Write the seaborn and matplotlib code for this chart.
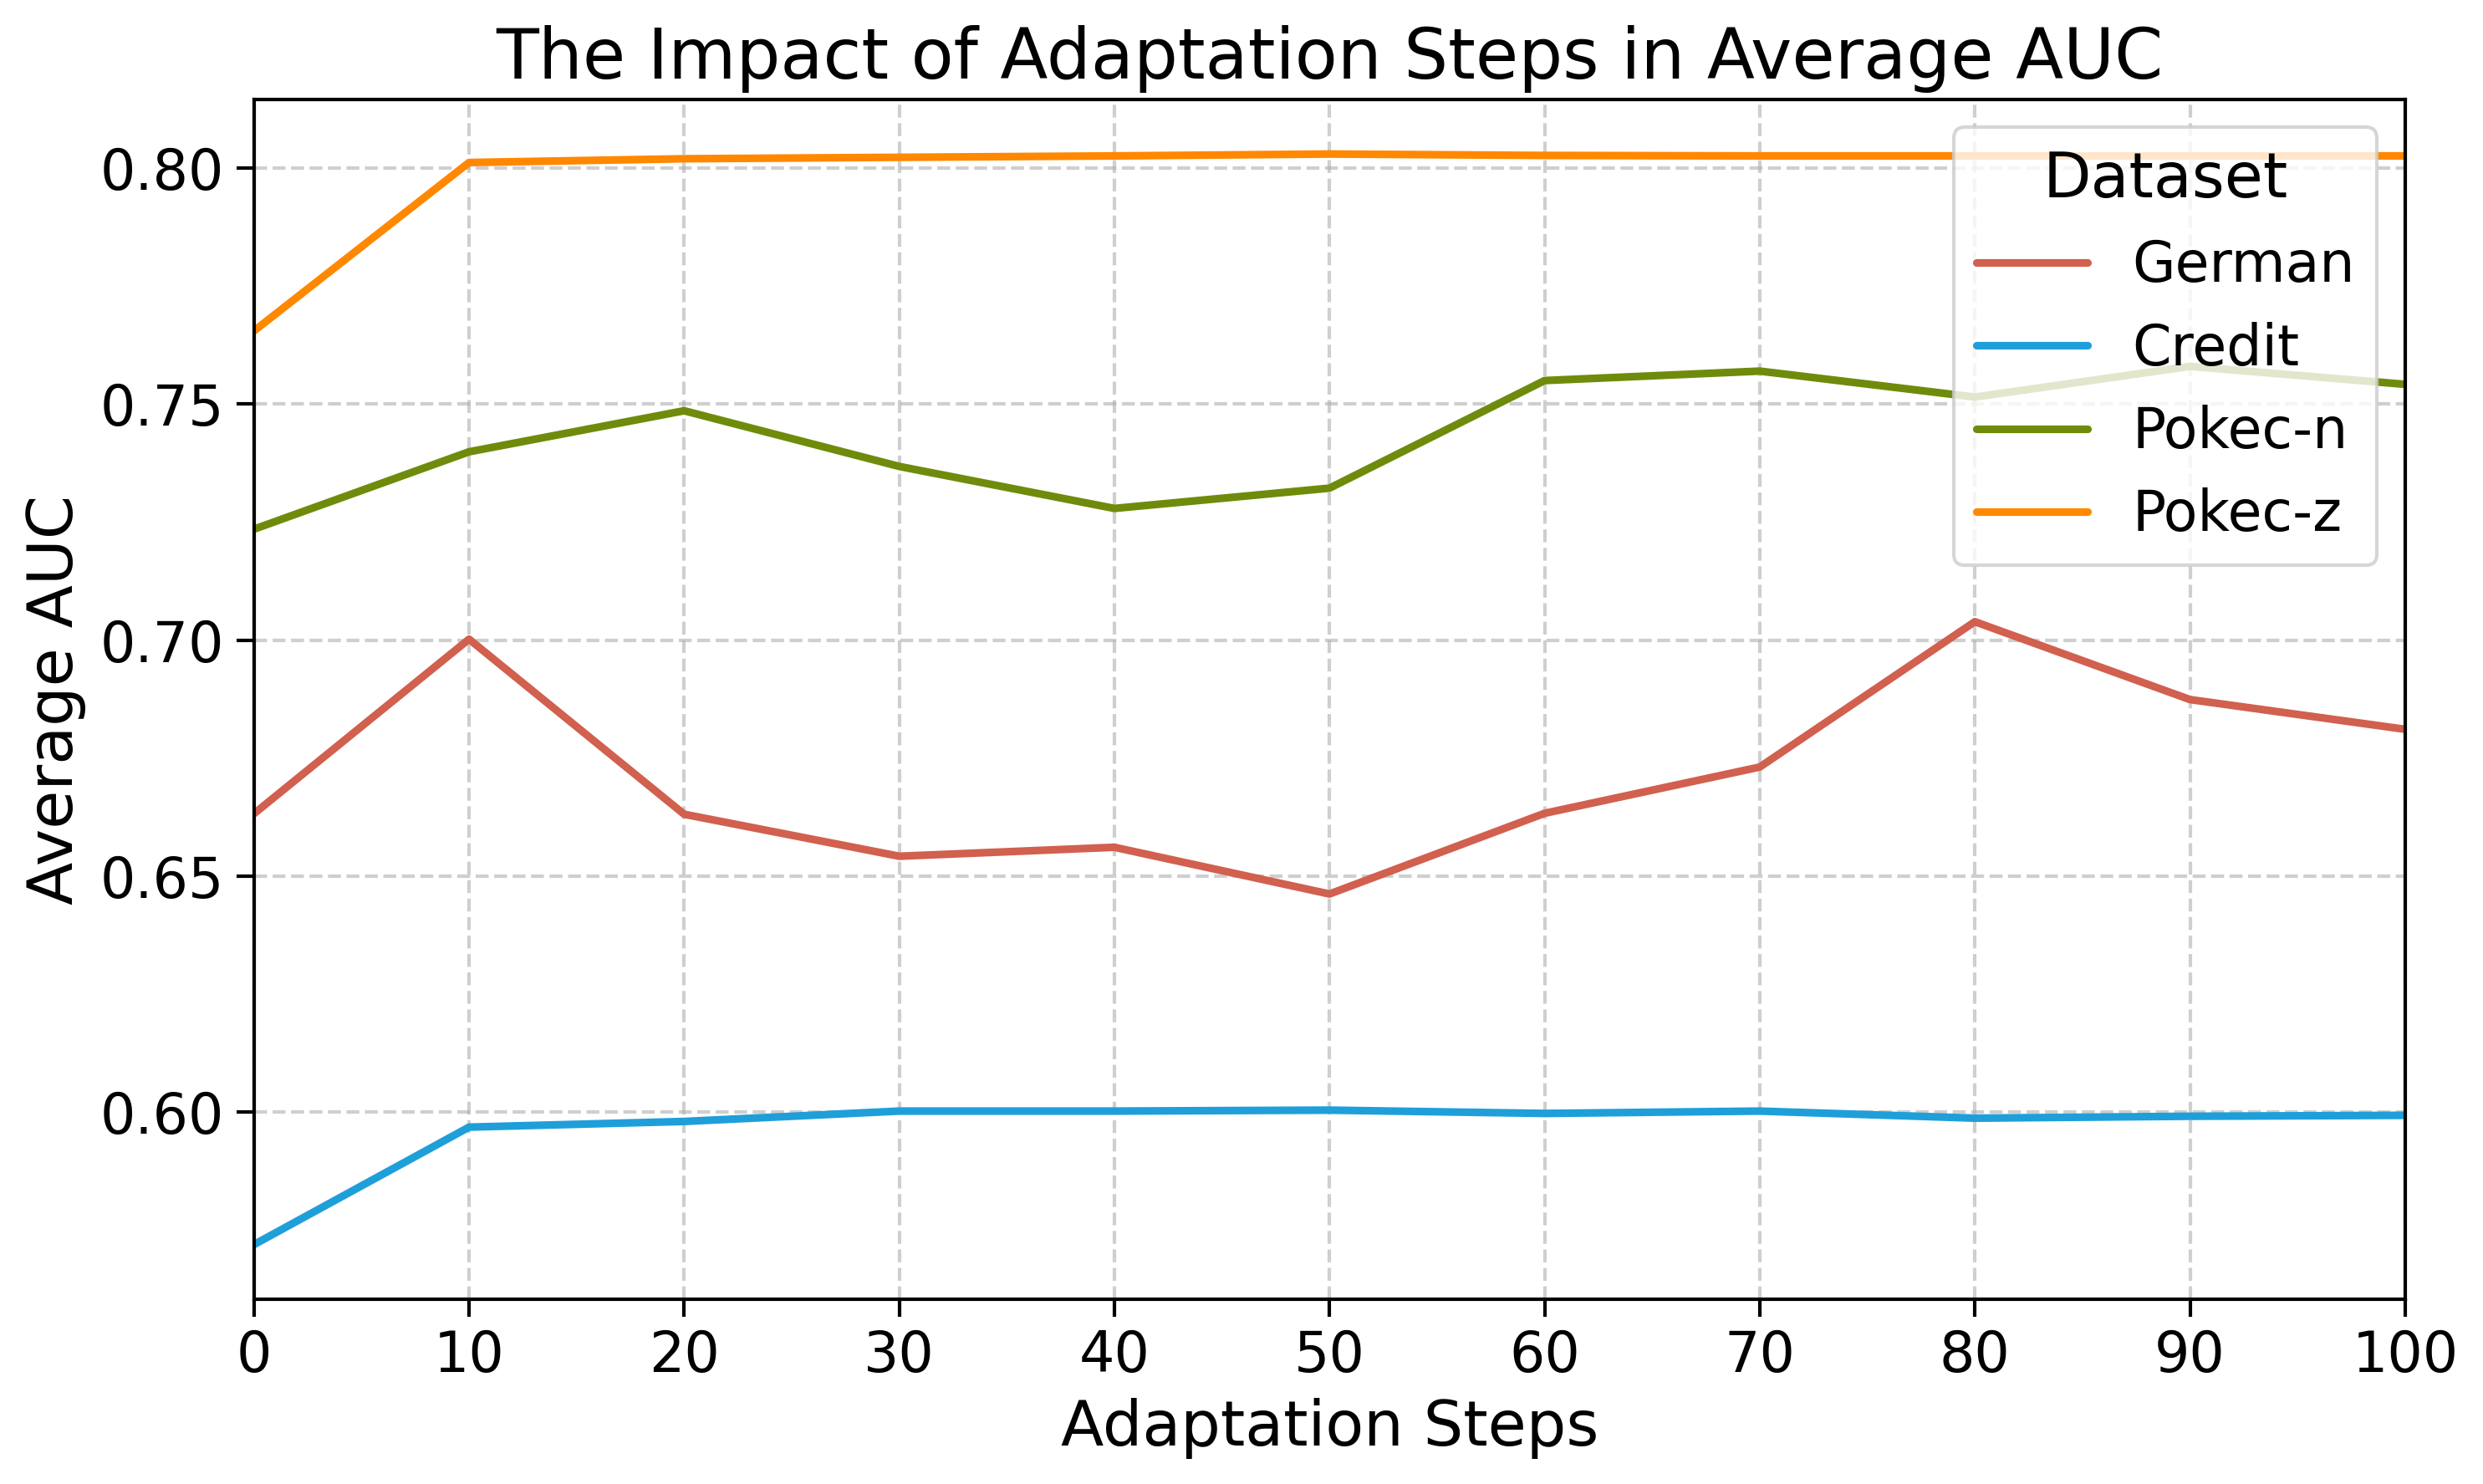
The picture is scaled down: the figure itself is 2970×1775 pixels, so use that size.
import pandas as pd
import matplotlib
matplotlib.use('Agg')
import matplotlib.pyplot as plt
import seaborn as sns

# Values
steps = [0, 10, 20, 30, 40, 50, 60, 70, 80, 90, 100]
german = [0.6632, 0.7002, 0.6631, 0.6542, 0.6561, 0.6462, 0.6633, 0.6731, 0.7039, 0.6874, 0.6811]
credit = [0.5719, 0.5968, 0.5980, 0.6002, 0.6002, 0.6004, 0.5997, 0.6002, 0.5987, 0.5991, 0.5993]
pokec_n = [0.7235, 0.7399, 0.7486, 0.7368, 0.7279, 0.7322, 0.7550, 0.7570, 0.7515, 0.7580, 0.7542]
pokec_z = [0.7655, 0.8012, 0.8020, 0.8023, 0.8026, 0.8030, 0.8027, 0.8026, 0.8026, 0.8026, 0.8026]

datasets = ['German', 'Credit', 'Pokec-n', 'Pokec-z']
colors = ['#D1604F', '#1F9FDA', '#6F8B0B', '#FF8800']

sns.set_style("ticks")
plt.rcParams['font.family'] = ['DejaVu Sans']
plt.rcParams['text.color'] = 'black'
plt.rcParams['axes.labelcolor'] = 'black'
plt.rcParams['xtick.color'] = 'black'
plt.rcParams['ytick.color'] = 'black'

rows = []
for name, vals in zip(datasets, [german, credit, pokec_n, pokec_z]):
    for s, v in zip(steps, vals):
        rows.append({'Adaptation Steps': s, 'Average AUC': v, 'Dataset': name})
df = pd.DataFrame(rows)

fig, ax = plt.subplots(figsize=(10, 6))

sns.lineplot(data=df, x='Adaptation Steps', y='Average AUC', hue='Dataset',
             hue_order=datasets, palette=dict(zip(datasets, colors)),
             linewidth=2.2, ax=ax)

ax.set_xlim(0, 100)
ax.set_xticks(steps)
ax.grid(True, linestyle='--', color='#b0b0b0', alpha=0.6, linewidth=1)

for spine in ax.spines.values():
    spine.set_color('black')
    spine.set_linewidth(1.0)

ax.set_title('The Impact of Adaptation Steps in Average AUC', fontsize=20, color='black')
ax.set_xlabel('Adaptation Steps', fontsize=18, color='black')
ax.set_ylabel('Average AUC', fontsize=18, color='black')
ax.tick_params(axis='both', labelsize=16, direction='out', length=5, width=1,
               color='black', labelcolor='black')

leg = ax.legend(title='Dataset', loc='upper right', fontsize=16, title_fontsize=18)
for t in leg.get_texts():
    t.set_color('black')
leg.get_title().set_color('black')

plt.tight_layout()
plt.savefig('out.png', dpi=300, bbox_inches='tight')
plt.close()
